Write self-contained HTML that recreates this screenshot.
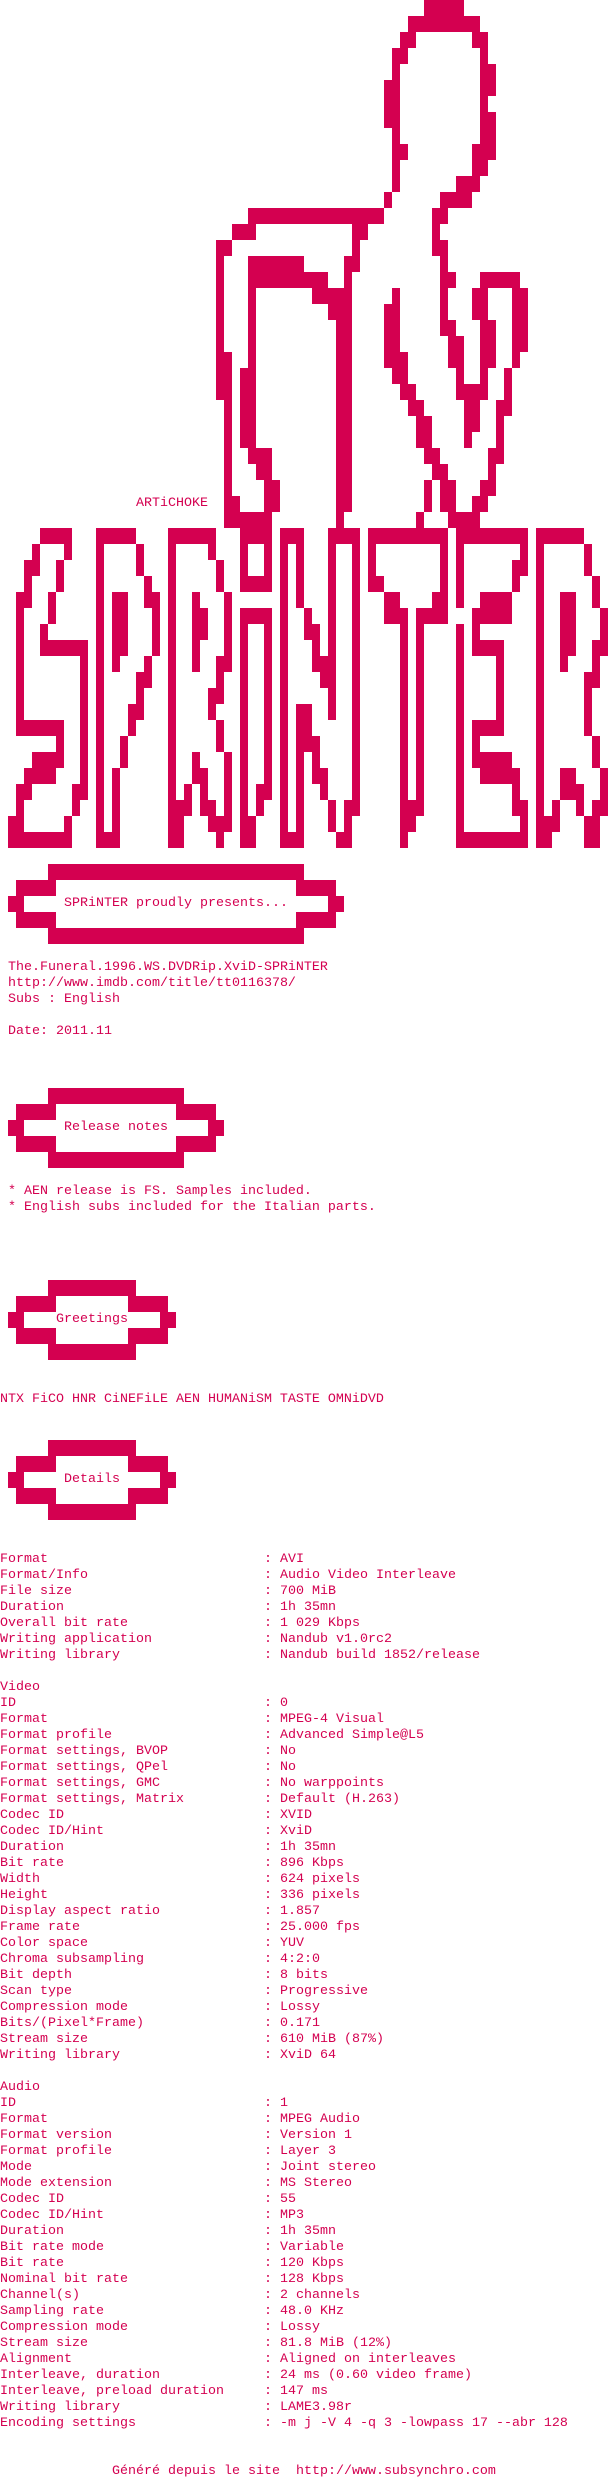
<!DOCTYPE html>
<html><head><meta charset="utf-8">
<style>
html,body{margin:0;padding:0;background:#fff;}
body{width:608px;height:2480px;position:relative;overflow:hidden;}
.b{position:absolute;background:#d40050;}
.t{position:absolute;font-family:"Liberation Mono",monospace;font-size:13.33px;line-height:16px;color:#d40050;white-space:pre;}
.t i{display:inline-block;width:264px;font-style:normal;}
</style></head><body>
<!-- figure -->
<div class="b" style="left:424px;top:0px;width:40px;height:16px"></div>
<div class="b" style="left:408px;top:16px;width:72px;height:16px"></div>
<div class="b" style="left:400px;top:32px;width:16px;height:16px"></div>
<div class="b" style="left:472px;top:32px;width:16px;height:16px"></div>
<div class="b" style="left:392px;top:48px;width:16px;height:16px"></div>
<div class="b" style="left:480px;top:48px;width:8px;height:128px"></div>
<div class="b" style="left:488px;top:64px;width:8px;height:32px"></div>
<div class="b" style="left:488px;top:112px;width:8px;height:48px"></div>
<div class="b" style="left:392px;top:48px;width:8px;height:144px"></div>
<div class="b" style="left:384px;top:80px;width:8px;height:48px"></div>
<div class="b" style="left:384px;top:192px;width:8px;height:16px"></div>
<div class="b" style="left:400px;top:144px;width:8px;height:16px"></div>
<div class="b" style="left:472px;top:144px;width:8px;height:32px"></div>
<div class="b" style="left:456px;top:176px;width:24px;height:16px"></div>
<div class="b" style="left:440px;top:192px;width:32px;height:16px"></div>
<div class="b" style="left:248px;top:208px;width:136px;height:16px"></div>
<div class="b" style="left:432px;top:208px;width:16px;height:16px"></div>
<div class="b" style="left:232px;top:224px;width:24px;height:16px"></div>
<div class="b" style="left:352px;top:224px;width:16px;height:16px"></div>
<div class="b" style="left:432px;top:224px;width:8px;height:32px"></div>
<div class="b" style="left:440px;top:240px;width:8px;height:16px"></div>
<div class="b" style="left:216px;top:240px;width:8px;height:160px"></div>
<div class="b" style="left:224px;top:240px;width:8px;height:16px"></div>
<div class="b" style="left:224px;top:352px;width:8px;height:160px"></div>
<div class="b" style="left:232px;top:496px;width:8px;height:16px"></div>
<div class="b" style="left:224px;top:512px;width:48px;height:16px"></div>
<div class="b" style="left:248px;top:256px;width:8px;height:208px"></div>
<div class="b" style="left:256px;top:256px;width:48px;height:16px"></div>
<div class="b" style="left:256px;top:272px;width:72px;height:16px"></div>
<div class="b" style="left:240px;top:368px;width:8px;height:80px"></div>
<div class="b" style="left:256px;top:448px;width:16px;height:32px"></div>
<div class="b" style="left:264px;top:480px;width:16px;height:32px"></div>
<div class="b" style="left:336px;top:304px;width:16px;height:208px"></div>
<div class="b" style="left:328px;top:304px;width:8px;height:16px"></div>
<div class="b" style="left:312px;top:288px;width:40px;height:16px"></div>
<div class="b" style="left:344px;top:256px;width:8px;height:32px"></div>
<div class="b" style="left:352px;top:224px;width:8px;height:48px"></div>
<div class="b" style="left:336px;top:512px;width:8px;height:16px"></div>
<div class="b" style="left:384px;top:304px;width:16px;height:64px"></div>
<div class="b" style="left:392px;top:288px;width:8px;height:16px"></div>
<div class="b" style="left:400px;top:352px;width:8px;height:32px"></div>
<div class="b" style="left:392px;top:368px;width:8px;height:16px"></div>
<div class="b" style="left:400px;top:384px;width:16px;height:16px"></div>
<div class="b" style="left:408px;top:400px;width:16px;height:16px"></div>
<div class="b" style="left:416px;top:416px;width:16px;height:32px"></div>
<div class="b" style="left:424px;top:448px;width:16px;height:16px"></div>
<div class="b" style="left:432px;top:464px;width:16px;height:16px"></div>
<div class="b" style="left:424px;top:480px;width:8px;height:32px"></div>
<div class="b" style="left:440px;top:480px;width:16px;height:32px"></div>
<div class="b" style="left:416px;top:512px;width:8px;height:16px"></div>
<div class="b" style="left:440px;top:256px;width:8px;height:80px"></div>
<div class="b" style="left:448px;top:272px;width:8px;height:16px"></div>
<div class="b" style="left:448px;top:320px;width:8px;height:48px"></div>
<div class="b" style="left:456px;top:336px;width:8px;height:64px"></div>
<div class="b" style="left:464px;top:384px;width:24px;height:16px"></div>
<div class="b" style="left:464px;top:400px;width:16px;height:32px"></div>
<div class="b" style="left:464px;top:432px;width:8px;height:16px"></div>
<div class="b" style="left:472px;top:288px;width:16px;height:32px"></div>
<div class="b" style="left:480px;top:320px;width:16px;height:48px"></div>
<div class="b" style="left:480px;top:368px;width:8px;height:16px"></div>
<div class="b" style="left:480px;top:272px;width:40px;height:16px"></div>
<div class="b" style="left:512px;top:288px;width:16px;height:64px"></div>
<div class="b" style="left:512px;top:352px;width:8px;height:16px"></div>
<div class="b" style="left:504px;top:368px;width:8px;height:48px"></div>
<div class="b" style="left:496px;top:400px;width:8px;height:48px"></div>
<div class="b" style="left:488px;top:448px;width:16px;height:16px"></div>
<div class="b" style="left:488px;top:464px;width:8px;height:16px"></div>
<div class="b" style="left:480px;top:480px;width:16px;height:16px"></div>
<div class="b" style="left:472px;top:496px;width:16px;height:16px"></div>
<div class="b" style="left:448px;top:512px;width:32px;height:16px"></div>
<!-- S -->
<div class="b" style="left:40px;top:528px;width:32px;height:16px"></div>
<div class="b" style="left:32px;top:544px;width:8px;height:16px"></div>
<div class="b" style="left:64px;top:544px;width:8px;height:16px"></div>
<div class="b" style="left:24px;top:560px;width:16px;height:16px"></div>
<div class="b" style="left:56px;top:560px;width:8px;height:32px"></div>
<div class="b" style="left:24px;top:576px;width:8px;height:16px"></div>
<div class="b" style="left:16px;top:592px;width:16px;height:16px"></div>
<div class="b" style="left:48px;top:592px;width:8px;height:32px"></div>
<div class="b" style="left:16px;top:608px;width:8px;height:112px"></div>
<div class="b" style="left:40px;top:624px;width:8px;height:16px"></div>
<div class="b" style="left:40px;top:640px;width:48px;height:16px"></div>
<div class="b" style="left:80px;top:656px;width:8px;height:144px"></div>
<div class="b" style="left:16px;top:720px;width:48px;height:16px"></div>
<div class="b" style="left:56px;top:736px;width:8px;height:16px"></div>
<div class="b" style="left:32px;top:752px;width:32px;height:16px"></div>
<div class="b" style="left:24px;top:768px;width:32px;height:16px"></div>
<div class="b" style="left:16px;top:784px;width:16px;height:16px"></div>
<div class="b" style="left:72px;top:784px;width:16px;height:16px"></div>
<div class="b" style="left:16px;top:800px;width:8px;height:16px"></div>
<div class="b" style="left:72px;top:800px;width:8px;height:16px"></div>
<div class="b" style="left:8px;top:816px;width:16px;height:16px"></div>
<div class="b" style="left:64px;top:816px;width:8px;height:16px"></div>
<div class="b" style="left:8px;top:832px;width:64px;height:16px"></div>
<!-- P -->
<div class="b" style="left:96px;top:528px;width:40px;height:16px"></div>
<div class="b" style="left:96px;top:544px;width:8px;height:288px"></div>
<div class="b" style="left:136px;top:544px;width:8px;height:32px"></div>
<div class="b" style="left:144px;top:576px;width:8px;height:16px"></div>
<div class="b" style="left:144px;top:592px;width:16px;height:16px"></div>
<div class="b" style="left:152px;top:608px;width:8px;height:48px"></div>
<div class="b" style="left:112px;top:592px;width:16px;height:64px"></div>
<div class="b" style="left:112px;top:656px;width:8px;height:16px"></div>
<div class="b" style="left:144px;top:656px;width:8px;height:16px"></div>
<div class="b" style="left:136px;top:672px;width:16px;height:16px"></div>
<div class="b" style="left:136px;top:688px;width:8px;height:16px"></div>
<div class="b" style="left:128px;top:704px;width:16px;height:16px"></div>
<div class="b" style="left:128px;top:720px;width:8px;height:16px"></div>
<div class="b" style="left:120px;top:736px;width:8px;height:32px"></div>
<div class="b" style="left:112px;top:768px;width:8px;height:64px"></div>
<div class="b" style="left:96px;top:832px;width:24px;height:16px"></div>
<!-- R -->
<div class="b" style="left:168px;top:528px;width:48px;height:16px"></div>
<div class="b" style="left:168px;top:544px;width:8px;height:256px"></div>
<div class="b" style="left:208px;top:544px;width:8px;height:16px"></div>
<div class="b" style="left:216px;top:560px;width:8px;height:32px"></div>
<div class="b" style="left:224px;top:592px;width:8px;height:80px"></div>
<div class="b" style="left:192px;top:592px;width:8px;height:16px"></div>
<div class="b" style="left:192px;top:608px;width:16px;height:32px"></div>
<div class="b" style="left:192px;top:640px;width:8px;height:32px"></div>
<div class="b" style="left:216px;top:656px;width:8px;height:32px"></div>
<div class="b" style="left:208px;top:688px;width:16px;height:16px"></div>
<div class="b" style="left:208px;top:704px;width:8px;height:16px"></div>
<div class="b" style="left:216px;top:720px;width:8px;height:32px"></div>
<div class="b" style="left:224px;top:752px;width:8px;height:64px"></div>
<div class="b" style="left:192px;top:752px;width:8px;height:16px"></div>
<div class="b" style="left:192px;top:768px;width:16px;height:16px"></div>
<div class="b" style="left:184px;top:784px;width:8px;height:16px"></div>
<div class="b" style="left:200px;top:784px;width:8px;height:16px"></div>
<div class="b" style="left:168px;top:800px;width:24px;height:16px"></div>
<div class="b" style="left:200px;top:800px;width:16px;height:16px"></div>
<div class="b" style="left:168px;top:816px;width:16px;height:32px"></div>
<div class="b" style="left:208px;top:816px;width:24px;height:16px"></div>
<div class="b" style="left:216px;top:832px;width:8px;height:16px"></div>
<!-- i -->
<div class="b" style="left:240px;top:528px;width:32px;height:16px"></div>
<div class="b" style="left:240px;top:544px;width:8px;height:32px"></div>
<div class="b" style="left:264px;top:544px;width:8px;height:32px"></div>
<div class="b" style="left:240px;top:576px;width:32px;height:16px"></div>
<div class="b" style="left:240px;top:608px;width:32px;height:16px"></div>
<div class="b" style="left:240px;top:624px;width:8px;height:208px"></div>
<div class="b" style="left:264px;top:624px;width:8px;height:160px"></div>
<div class="b" style="left:256px;top:784px;width:16px;height:16px"></div>
<div class="b" style="left:256px;top:800px;width:8px;height:16px"></div>
<div class="b" style="left:240px;top:816px;width:16px;height:32px"></div>
<!-- N -->
<div class="b" style="left:280px;top:528px;width:24px;height:16px"></div>
<div class="b" style="left:280px;top:544px;width:8px;height:288px"></div>
<div class="b" style="left:296px;top:544px;width:8px;height:64px"></div>
<div class="b" style="left:304px;top:608px;width:8px;height:16px"></div>
<div class="b" style="left:304px;top:624px;width:16px;height:16px"></div>
<div class="b" style="left:312px;top:640px;width:8px;height:16px"></div>
<div class="b" style="left:312px;top:656px;width:24px;height:16px"></div>
<div class="b" style="left:320px;top:672px;width:16px;height:16px"></div>
<div class="b" style="left:328px;top:688px;width:8px;height:32px"></div>
<div class="b" style="left:328px;top:528px;width:32px;height:16px"></div>
<div class="b" style="left:328px;top:544px;width:8px;height:112px"></div>
<div class="b" style="left:352px;top:544px;width:8px;height:272px"></div>
<div class="b" style="left:296px;top:704px;width:16px;height:32px"></div>
<div class="b" style="left:296px;top:736px;width:24px;height:16px"></div>
<div class="b" style="left:296px;top:752px;width:8px;height:80px"></div>
<div class="b" style="left:312px;top:752px;width:8px;height:16px"></div>
<div class="b" style="left:312px;top:768px;width:16px;height:16px"></div>
<div class="b" style="left:320px;top:784px;width:8px;height:16px"></div>
<div class="b" style="left:328px;top:800px;width:8px;height:32px"></div>
<div class="b" style="left:344px;top:800px;width:16px;height:16px"></div>
<div class="b" style="left:344px;top:816px;width:8px;height:16px"></div>
<div class="b" style="left:280px;top:832px;width:24px;height:16px"></div>
<div class="b" style="left:336px;top:832px;width:16px;height:16px"></div>
<!-- T -->
<div class="b" style="left:368px;top:528px;width:80px;height:16px"></div>
<div class="b" style="left:368px;top:544px;width:8px;height:32px"></div>
<div class="b" style="left:440px;top:544px;width:8px;height:48px"></div>
<div class="b" style="left:368px;top:576px;width:16px;height:16px"></div>
<div class="b" style="left:384px;top:592px;width:16px;height:16px"></div>
<div class="b" style="left:432px;top:592px;width:16px;height:16px"></div>
<div class="b" style="left:384px;top:608px;width:24px;height:16px"></div>
<div class="b" style="left:416px;top:608px;width:32px;height:16px"></div>
<div class="b" style="left:400px;top:624px;width:8px;height:176px"></div>
<div class="b" style="left:416px;top:624px;width:8px;height:176px"></div>
<div class="b" style="left:400px;top:800px;width:24px;height:16px"></div>
<div class="b" style="left:400px;top:816px;width:16px;height:16px"></div>
<div class="b" style="left:400px;top:832px;width:8px;height:16px"></div>
<!-- E -->
<div class="b" style="left:456px;top:528px;width:72px;height:16px"></div>
<div class="b" style="left:456px;top:544px;width:8px;height:64px"></div>
<div class="b" style="left:520px;top:544px;width:8px;height:16px"></div>
<div class="b" style="left:512px;top:560px;width:16px;height:16px"></div>
<div class="b" style="left:512px;top:576px;width:8px;height:16px"></div>
<div class="b" style="left:480px;top:592px;width:32px;height:16px"></div>
<div class="b" style="left:472px;top:608px;width:40px;height:16px"></div>
<div class="b" style="left:456px;top:624px;width:8px;height:208px"></div>
<div class="b" style="left:472px;top:624px;width:8px;height:16px"></div>
<div class="b" style="left:472px;top:640px;width:32px;height:16px"></div>
<div class="b" style="left:496px;top:656px;width:8px;height:64px"></div>
<div class="b" style="left:472px;top:720px;width:32px;height:16px"></div>
<div class="b" style="left:472px;top:736px;width:8px;height:16px"></div>
<div class="b" style="left:472px;top:752px;width:40px;height:16px"></div>
<div class="b" style="left:480px;top:768px;width:40px;height:16px"></div>
<div class="b" style="left:512px;top:784px;width:8px;height:16px"></div>
<div class="b" style="left:512px;top:800px;width:16px;height:16px"></div>
<div class="b" style="left:520px;top:816px;width:8px;height:16px"></div>
<div class="b" style="left:456px;top:832px;width:72px;height:16px"></div>
<!-- R2 -->
<div class="b" style="left:536px;top:528px;width:48px;height:16px"></div>
<div class="b" style="left:536px;top:544px;width:8px;height:272px"></div>
<div class="b" style="left:584px;top:544px;width:8px;height:32px"></div>
<div class="b" style="left:592px;top:576px;width:8px;height:32px"></div>
<div class="b" style="left:600px;top:608px;width:8px;height:32px"></div>
<div class="b" style="left:592px;top:640px;width:16px;height:16px"></div>
<div class="b" style="left:592px;top:656px;width:8px;height:16px"></div>
<div class="b" style="left:584px;top:672px;width:16px;height:16px"></div>
<div class="b" style="left:584px;top:688px;width:8px;height:48px"></div>
<div class="b" style="left:592px;top:736px;width:8px;height:32px"></div>
<div class="b" style="left:600px;top:768px;width:8px;height:32px"></div>
<div class="b" style="left:592px;top:800px;width:16px;height:16px"></div>
<div class="b" style="left:584px;top:816px;width:16px;height:32px"></div>
<div class="b" style="left:560px;top:592px;width:16px;height:64px"></div>
<div class="b" style="left:560px;top:656px;width:8px;height:16px"></div>
<div class="b" style="left:560px;top:768px;width:16px;height:16px"></div>
<div class="b" style="left:560px;top:784px;width:24px;height:16px"></div>
<div class="b" style="left:552px;top:800px;width:8px;height:16px"></div>
<div class="b" style="left:576px;top:800px;width:8px;height:16px"></div>
<div class="b" style="left:536px;top:816px;width:24px;height:16px"></div>
<div class="b" style="left:536px;top:832px;width:16px;height:16px"></div>
<!-- box 1 proudly -->
<div class="b" style="left:48px;top:864px;width:256px;height:16px"></div>
<div class="b" style="left:16px;top:880px;width:40px;height:16px"></div>
<div class="b" style="left:296px;top:880px;width:40px;height:16px"></div>
<div class="b" style="left:8px;top:896px;width:16px;height:16px"></div>
<div class="b" style="left:328px;top:896px;width:16px;height:16px"></div>
<div class="b" style="left:16px;top:912px;width:40px;height:16px"></div>
<div class="b" style="left:296px;top:912px;width:40px;height:16px"></div>
<div class="b" style="left:48px;top:928px;width:256px;height:16px"></div>
<!-- box 2 release -->
<div class="b" style="left:48px;top:1088px;width:136px;height:16px"></div>
<div class="b" style="left:16px;top:1104px;width:40px;height:16px"></div>
<div class="b" style="left:176px;top:1104px;width:40px;height:16px"></div>
<div class="b" style="left:8px;top:1120px;width:16px;height:16px"></div>
<div class="b" style="left:208px;top:1120px;width:16px;height:16px"></div>
<div class="b" style="left:16px;top:1136px;width:40px;height:16px"></div>
<div class="b" style="left:176px;top:1136px;width:40px;height:16px"></div>
<div class="b" style="left:48px;top:1152px;width:136px;height:16px"></div>
<!-- box 3 greetings -->
<div class="b" style="left:48px;top:1280px;width:88px;height:16px"></div>
<div class="b" style="left:16px;top:1296px;width:40px;height:16px"></div>
<div class="b" style="left:128px;top:1296px;width:40px;height:16px"></div>
<div class="b" style="left:8px;top:1312px;width:16px;height:16px"></div>
<div class="b" style="left:160px;top:1312px;width:16px;height:16px"></div>
<div class="b" style="left:16px;top:1328px;width:40px;height:16px"></div>
<div class="b" style="left:128px;top:1328px;width:40px;height:16px"></div>
<div class="b" style="left:48px;top:1344px;width:88px;height:16px"></div>
<!-- box 4 details -->
<div class="b" style="left:48px;top:1440px;width:88px;height:16px"></div>
<div class="b" style="left:16px;top:1456px;width:40px;height:16px"></div>
<div class="b" style="left:128px;top:1456px;width:40px;height:16px"></div>
<div class="b" style="left:8px;top:1472px;width:16px;height:16px"></div>
<div class="b" style="left:160px;top:1472px;width:16px;height:16px"></div>
<div class="b" style="left:16px;top:1488px;width:40px;height:16px"></div>
<div class="b" style="left:128px;top:1488px;width:40px;height:16px"></div>
<div class="b" style="left:48px;top:1504px;width:88px;height:16px"></div>

<!-- text -->
<div class="t" style="left:136px;top:496px">ARTiCHOKE</div>
<div class="t" style="left:64px;top:896px">SPRiNTER proudly presents...</div>
<div class="t" style="left:8px;top:960px">The.Funeral.1996.WS.DVDRip.XviD-SPRiNTER
http://www.imdb.com/title/tt0116378/
Subs : English

Date: 2011.11</div>
<div class="t" style="left:64px;top:1120px">Release notes</div>
<div class="t" style="left:8px;top:1184px">* AEN release is FS. Samples included.
* English subs included for the Italian parts.</div>
<div class="t" style="left:56px;top:1312px">Greetings</div>
<div class="t" style="left:0px;top:1392px">NTX FiCO HNR CiNEFiLE AEN HUMANiSM TASTE OMNiDVD</div>
<div class="t" style="left:64px;top:1472px">Details</div>
<div class="t" style="left:0px;top:1552px"><i>Format</i>: AVI
<i>Format/Info</i>: Audio Video Interleave
<i>File size</i>: 700 MiB
<i>Duration</i>: 1h 35mn
<i>Overall bit rate</i>: 1 029 Kbps
<i>Writing application</i>: Nandub v1.0rc2
<i>Writing library</i>: Nandub build 1852/release

Video
<i>ID</i>: 0
<i>Format</i>: MPEG-4 Visual
<i>Format profile</i>: Advanced Simple@L5
<i>Format settings, BVOP</i>: No
<i>Format settings, QPel</i>: No
<i>Format settings, GMC</i>: No warppoints
<i>Format settings, Matrix</i>: Default (H.263)
<i>Codec ID</i>: XVID
<i>Codec ID/Hint</i>: XviD
<i>Duration</i>: 1h 35mn
<i>Bit rate</i>: 896 Kbps
<i>Width</i>: 624 pixels
<i>Height</i>: 336 pixels
<i>Display aspect ratio</i>: 1.857
<i>Frame rate</i>: 25.000 fps
<i>Color space</i>: YUV
<i>Chroma subsampling</i>: 4:2:0
<i>Bit depth</i>: 8 bits
<i>Scan type</i>: Progressive
<i>Compression mode</i>: Lossy
<i>Bits/(Pixel*Frame)</i>: 0.171
<i>Stream size</i>: 610 MiB (87%)
<i>Writing library</i>: XviD 64

Audio
<i>ID</i>: 1
<i>Format</i>: MPEG Audio
<i>Format version</i>: Version 1
<i>Format profile</i>: Layer 3
<i>Mode</i>: Joint stereo
<i>Mode extension</i>: MS Stereo
<i>Codec ID</i>: 55
<i>Codec ID/Hint</i>: MP3
<i>Duration</i>: 1h 35mn
<i>Bit rate mode</i>: Variable
<i>Bit rate</i>: 120 Kbps
<i>Nominal bit rate</i>: 128 Kbps
<i>Channel(s)</i>: 2 channels
<i>Sampling rate</i>: 48.0 KHz
<i>Compression mode</i>: Lossy
<i>Stream size</i>: 81.8 MiB (12%)
<i>Alignment</i>: Aligned on interleaves
<i>Interleave, duration</i>: 24 ms (0.60 video frame)
<i>Interleave, preload duration</i>: 147 ms
<i>Writing library</i>: LAME3.98r
<i>Encoding settings</i>: -m j -V 4 -q 3 -lowpass 17 --abr 128</div>
<div class="t" style="left:112px;top:2464px">Généré depuis le site  http://www.subsynchro.com</div>
</body></html>
